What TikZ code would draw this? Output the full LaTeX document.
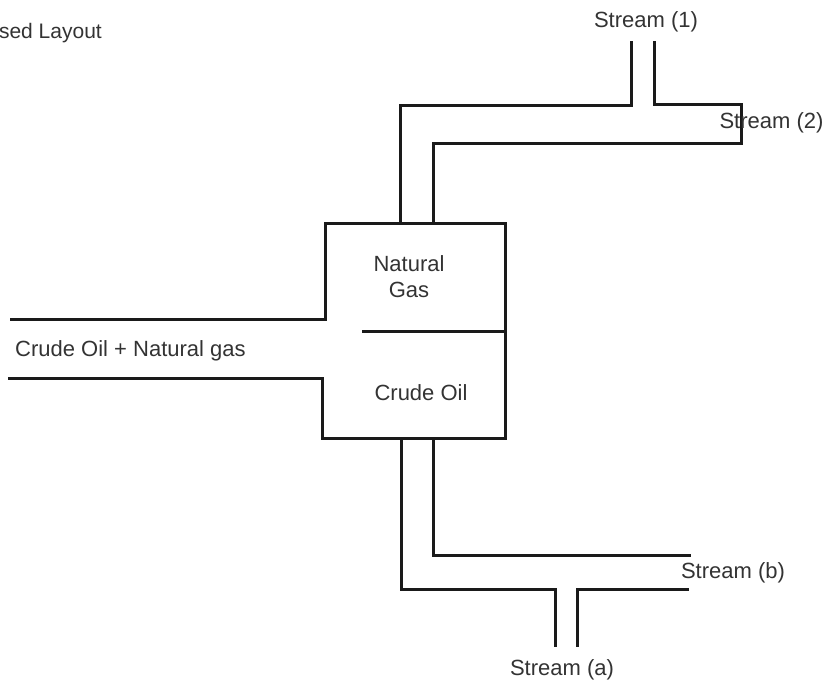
\documentclass[tikz,border=0pt]{standalone}
\usepackage{fontspec}
\setmainfont{Liberation Sans}
\definecolor{ink}{HTML}{1A1A1A}
\definecolor{txt}{HTML}{333333}
\tikzset{pipe/.style={draw=ink,line width=3pt,line join=miter},lab/.style={text=txt,font=\fontsize{22pt}{25pt}\selectfont,inner sep=0pt,align=center}}
\begin{document}
\begin{tikzpicture}[x=1pt,y=-1pt]
\useasboundingbox (0,0) rectangle (830,686);
\coordinate (a1) at (631,41);\coordinate (a2) at (631,105);\coordinate (a3) at (400,105);\coordinate (a4) at (400,223);
\coordinate (b1) at (654,41);\coordinate (b2) at (654,104);\coordinate (b3) at (741.5,104);\coordinate (b4) at (741.5,143);\coordinate (b5) at (433,143);\coordinate (b6) at (433,223);
\draw[pipe] (a1)--(a2)--(a3)--(a4);
\draw[pipe] (b1)--(b2)--(b3)--(b4)--(b5)--(b6);
\coordinate (t1) at (10,319);\coordinate (t2) at (325,319);\coordinate (t3) at (325,223.5);\coordinate (t4) at (505.7,223.5);\coordinate (t5) at (505.7,438.7);\coordinate (t6) at (322,438.7);\coordinate (t7) at (322,378);\coordinate (t8) at (8,378);
\draw[pipe] (t1)--(t2)--(t3)--(t4)--(t5)--(t6)--(t7)--(t8);
\coordinate (d1) at (362,331);\coordinate (d2) at (505.7,331);
\draw[pipe] (d1)--(d2);
\coordinate (c1) at (401,439);\coordinate (c2) at (401,589);\coordinate (c3) at (555,589);\coordinate (c4) at (555,647);
\coordinate (e1) at (433,439);\coordinate (e2) at (433,555);\coordinate (e3) at (691,555);
\coordinate (f1) at (689,589);\coordinate (f2) at (577,589);\coordinate (f3) at (577,647);
\draw[pipe] (c1)--(c2)--(c3)--(c4);
\draw[pipe] (e1)--(e2)--(e3);
\draw[pipe] (f1)--(f2)--(f3);
\node[lab,anchor=east,font=\fontsize{21pt}{25pt}\selectfont] (title) at (102,33) {sed Layout};
\node[lab] (s1) at (646,22) {Stream (1)};
\node[lab] (s2) at (771.5,123) {Stream (2)};
\node[lab] (ng) at (409,277) {Natural\\[1pt]Gas};
\node[lab,anchor=west] (mix) at (15,351) {Crude Oil + Natural gas};
\node[lab] (co) at (421,393) {Crude Oil};
\node[lab] (sb) at (733,573) {Stream (b)};
\node[lab] (sa) at (562,670) {Stream (a)};
\end{tikzpicture}
\end{document}
